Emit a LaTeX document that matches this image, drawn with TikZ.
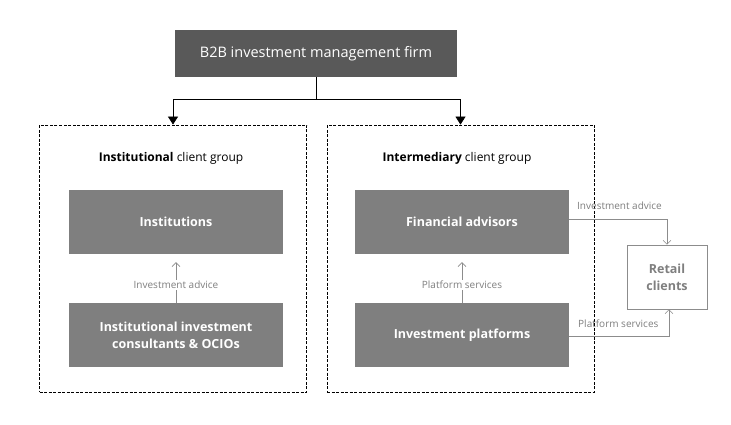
\documentclass[tikz,border=0pt]{standalone}
\usepackage{fontspec}
\setmainfont{Open Sans}
\usetikzlibrary{arrows.meta}
\definecolor{topgray}{HTML}{595959}
\definecolor{boxgray}{HTML}{7F7F7F}
\definecolor{linegray}{HTML}{8C8C8C}
\definecolor{labgray}{HTML}{7F7F7F}
\begin{document}
\begin{tikzpicture}[x=1pt,y=-1pt,
  topbox/.style={fill=topgray, text=white, minimum width=282pt, minimum height=47pt, inner sep=0pt, font=\fontsize{14.5}{17}\selectfont},
  groupbox/.style={draw=black, line width=0.8pt, dash pattern=on 3pt off 1.5pt, minimum width=267pt, minimum height=267pt, inner sep=0pt},
  grouptitle/.style={font=\fontsize{12}{14}\selectfont, inner sep=0pt},
  entity/.style={fill=boxgray, text=white, minimum width=214pt, minimum height=64pt, inner sep=0pt, align=center, font=\fontsize{12.5}{17}\selectfont\bfseries},
  retailbox/.style={draw=linegray, line width=0.6pt, fill=white, text=labgray, minimum width=80pt, minimum height=64pt, inner sep=0pt, align=center, font=\fontsize{12.5}{17}\selectfont\bfseries},
  flowlabel/.style={font=\fontsize{10}{12}\selectfont, text=labgray, fill=white, inner sep=1.5pt},
  sidelabel/.style={font=\fontsize{10}{12}\selectfont, text=labgray, inner sep=0pt, anchor=west},
  mainarrow/.style={draw=black, line width=0.8pt, -{Triangle[length=8pt,width=10pt]}},
  flowarrow/.style={draw=linegray, line width=0.6pt, -{Straight Barb[length=4pt,width=8pt]}}
]
\useasboundingbox (0,0) rectangle (731,425);
\fill[white] (0,0) rectangle (731,425);

\node[topbox] (firm) at (316,53.5) {B2B investment management firm};
\node[groupbox] (ig) at (173,258.5) {};
\node[groupbox] (mg) at (460.5,258.5) {};
\node[grouptitle] (igt) at (171,158) {\textbf{Institutional} client group};
\node[grouptitle] (mgt) at (457,158) {\textbf{Intermediary} client group};

\node[entity] (inst) at (176,222) {Institutions};
\node[entity] (cons) at (176,335) {Institutional investment\\consultants \& OCIOs};
\node[entity] (fa) at (462,222) {Financial advisors};
\node[entity] (ip) at (462,335) {Investment platforms};
\node[retailbox] (rc) at (667,277) {Retail\\clients};

\coordinate (split) at (316,99);
\draw[line width=0.8pt] (firm.south) -- (split);
\draw[mainarrow] (split) -| (ig.north);
\draw[mainarrow] (split) -| (mg.north);

\draw[flowarrow, shorten >=8pt] (cons.north) -- (inst.south);
\node[flowlabel] (l1) at (176,285) {Investment advice};
\draw[flowarrow, shorten >=8pt] (ip.north) -- (fa.south);
\node[flowlabel] (l2) at (462,285) {Platform services};

\draw[flowarrow] ([yshift=3pt]fa.east) -| (rc.north);
\node[sidelabel] (l3) at (577,206) {Investment advice};
\draw[flowarrow] ([yshift=-1pt]ip.east) -| ([xshift=2pt]rc.south);
\node[sidelabel] (l4) at (578,324) {Platform services};
\end{tikzpicture}
\end{document}
